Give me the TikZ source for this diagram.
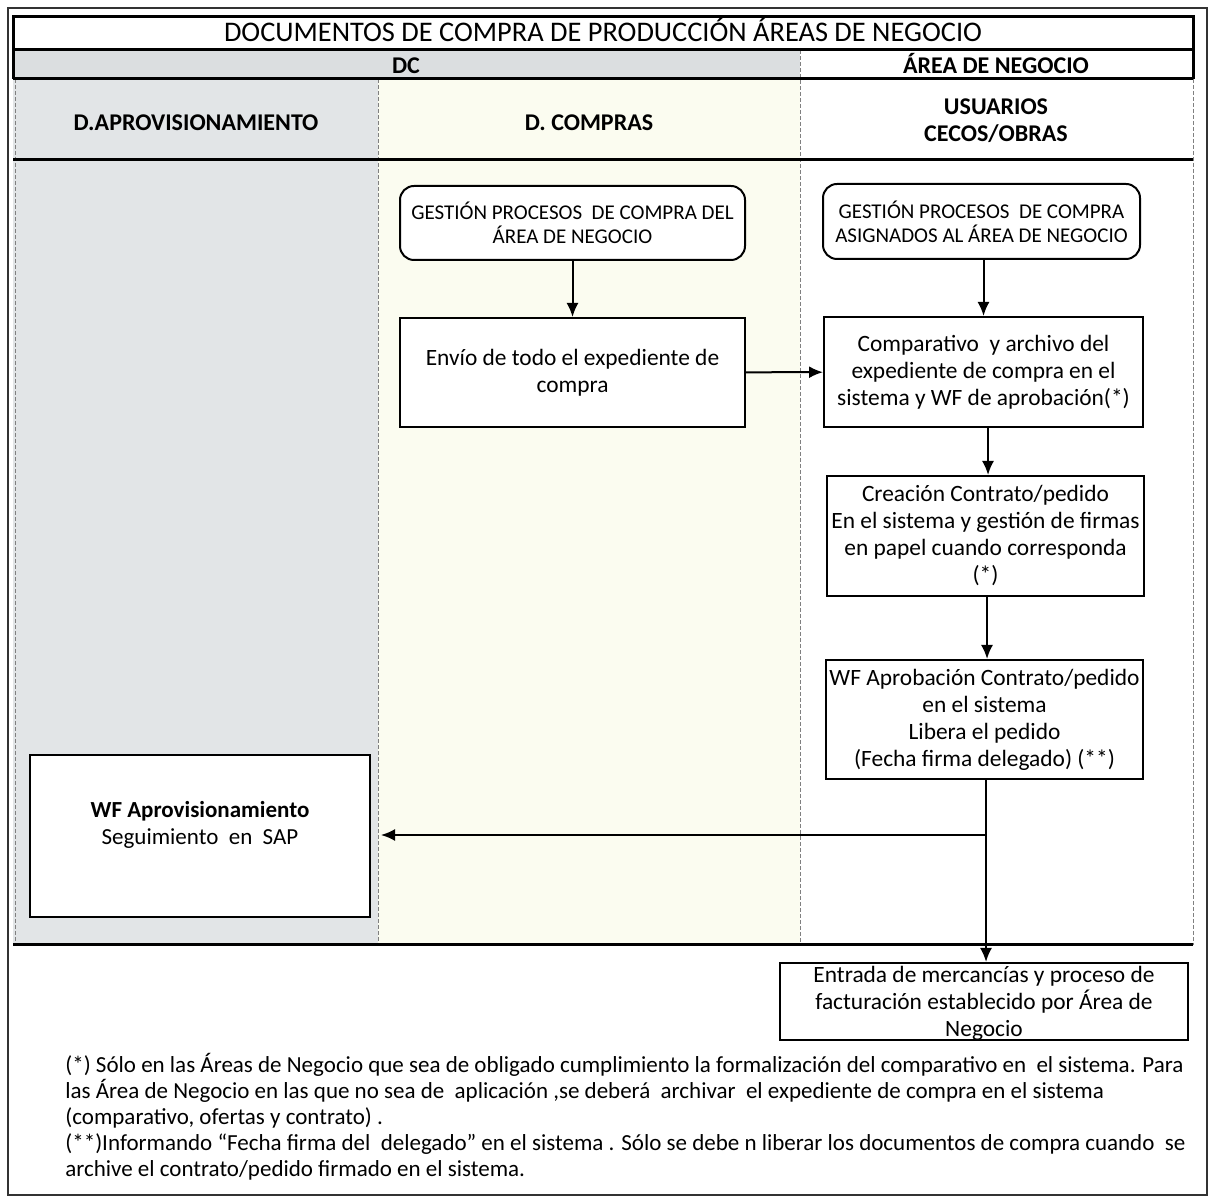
\documentclass[tikz,border=0pt]{standalone}
\usepackage{fontspec}
\setmainfont{Carlito}
\usetikzlibrary{arrows.meta}
\definecolor{greycol}{RGB}{226,229,231}
\definecolor{yelcol}{RGB}{251,252,240}
\definecolor{hdrgrey}{RGB}{219,222,224}
\begin{document}
\begin{tikzpicture}[x=0.5pt,y=-0.5pt,
  box/.style={draw, line width=1pt, fill=white, align=center, font=\fontsize{11.7}{13.5}\selectfont, inner sep=1pt},
  rbox/.style={box, rounded corners=7pt, font=\fontsize{10.5}{12}\selectfont},
  arr/.style={line width=1pt, -{Latex[length=7pt,width=6pt]}},
  sep/.style={line width=1.5pt},
  dsh/.style={gray, line width=0.4pt, dash pattern=on 2pt off 1pt},
  hdr/.style={font=\bfseries\fontsize{12}{13.5}\selectfont, align=center}]
\useasboundingbox (0,0) rectangle (1211,1202);
\fill[white] (0,0) rectangle (1211,1202);
% backgrounds
\fill[hdrgrey] (13,50) rectangle (800,79);
\fill[greycol] (13,79) rectangle (378,945);
\fill[yelcol] (378,79) rectangle (800,945);
% outer frame
\draw[line width=0.8pt, black!80] (8,8) rectangle (1207,1195);
% dashed column lines
\draw[dsh] (15,79) -- (15,945);
\draw[dsh] (378,79) -- (378,945);
\draw[dsh] (800,50) -- (800,945);
\draw[dsh] (1193,79) -- (1193,945);
% table lines
\draw[sep] (13,17) rectangle (1193,50);
\draw[sep] (13,50) -- (13,79);
\draw[sep] (1193,50) -- (1193,79);
\draw[sep] (13,79) -- (1193,79);
\draw[sep] (13,160) -- (1193,160);
\draw[sep] (13,945) -- (1193,945);
% header texts
\node[font=\fontsize{14.2}{16}\selectfont, anchor=base] (title) at (603,42) {DOCUMENTOS DE COMPRA DE PRODUCCIÓN ÁREAS DE NEGOCIO};
\node[hdr, anchor=base] (dc) at (406,74) {DC};
\node[hdr, anchor=base] (an) at (996,74) {ÁREA DE NEGOCIO};
\node[hdr] (h1) at (196,123) {D.APROVISIONAMIENTO};
\node[hdr] (h2) at (589,123) {D. COMPRAS};
\node[hdr, font=\bfseries\fontsize{12}{13.5}\selectfont] (h3) at (996,121) {USUARIOS\\CECOS/OBRAS};
% boxes
\node[rbox, minimum width=172.5pt, minimum height=37pt] (b1) at (572.5,223) {GESTIÓN PROCESOS \ DE COMPRA DEL\\ÁREA DE NEGOCIO};
\node[box, minimum width=172.5pt, minimum height=54.5pt] (b2) at (572.5,372.5) {Envío de todo el expediente de\\compra};
\node[rbox, minimum width=158.5pt, minimum height=37.5pt] (b3) at (981.5,221.5) {GESTIÓN PROCESOS \ DE COMPRA\\ASIGNADOS AL ÁREA DE NEGOCIO};
\node[box, minimum width=159.5pt, minimum height=55pt] (b4) at (983.5,372) {Comparativo \ y archivo del\\expediente de compra en el\\sistema y WF de aprobación(*)};
\node[box, minimum width=158.5pt, minimum height=60pt] (b5) at (985.5,536) {Creación Contrato/pedido\\En el sistema y gestión de firmas\\en papel cuando corresponda\\(*)};
\node[box, minimum width=158.5pt, minimum height=59.5pt] (b6) at (984.5,719.5) {WF Aprobación Contrato/pedido\\en el sistema\\Libera el pedido\\(Fecha firma delegado) (**)};
\node[box, minimum width=170pt, minimum height=81pt] (b7) at (200,836) {};
\node[align=center, font=\fontsize{11.5}{13.5}\selectfont] (b7t) at (200,825) {\textbf{WF Aprovisionamiento}\\Seguimiento \ en \ SAP};
\node[align=center, font=\fontsize{11.7}{13.5}\selectfont, anchor=north, inner sep=0pt] (b8t) at (984,966) {Entrada de mercancías y proceso de\\facturación establecido por Área de\\Negocio};
\node[draw, line width=1pt, minimum width=204pt, minimum height=38.5pt] (b8) at (984,1001.5) {};
% connectors
\coordinate (j) at (986,835);
\coordinate (tip) at (381,835);
\draw[arr] (b1) -- (b2);
\draw[arr] (b2) -- (b4);
\draw[arr] (b3.south -| b4.north) -- (b4.north);
\draw[arr] (b4.south -| 988,0) -- (b5.north -| 988,0);
\draw[arr] (b5.south -| 987,0) -- (b6.north -| 987,0);
\draw[line width=1pt] (b6.south -| j) -- (j);
\draw[arr] (j) -- (tip);
\draw[arr] (j) -- (b8.north -| j);
% footnotes
\node[anchor=north west, align=left, inner sep=0pt, font=\fontsize{11.5}{13}\selectfont] (fn) at (65,1053) {(*) Sólo en las Áreas de Negocio que sea de obligado cumplimiento la formalización del comparativo en \ el sistema. Para\\las Área de Negocio en las que no sea de \ aplicación ,se deberá \ archivar \ el expediente de compra en el sistema\\(comparativo, ofertas y contrato) .\\(**)Informando “Fecha firma del \ delegado” en el sistema . Sólo se debe n liberar los documentos de compra cuando \ se\\archive el contrato/pedido firmado en el sistema.};
\end{tikzpicture}
\end{document}
